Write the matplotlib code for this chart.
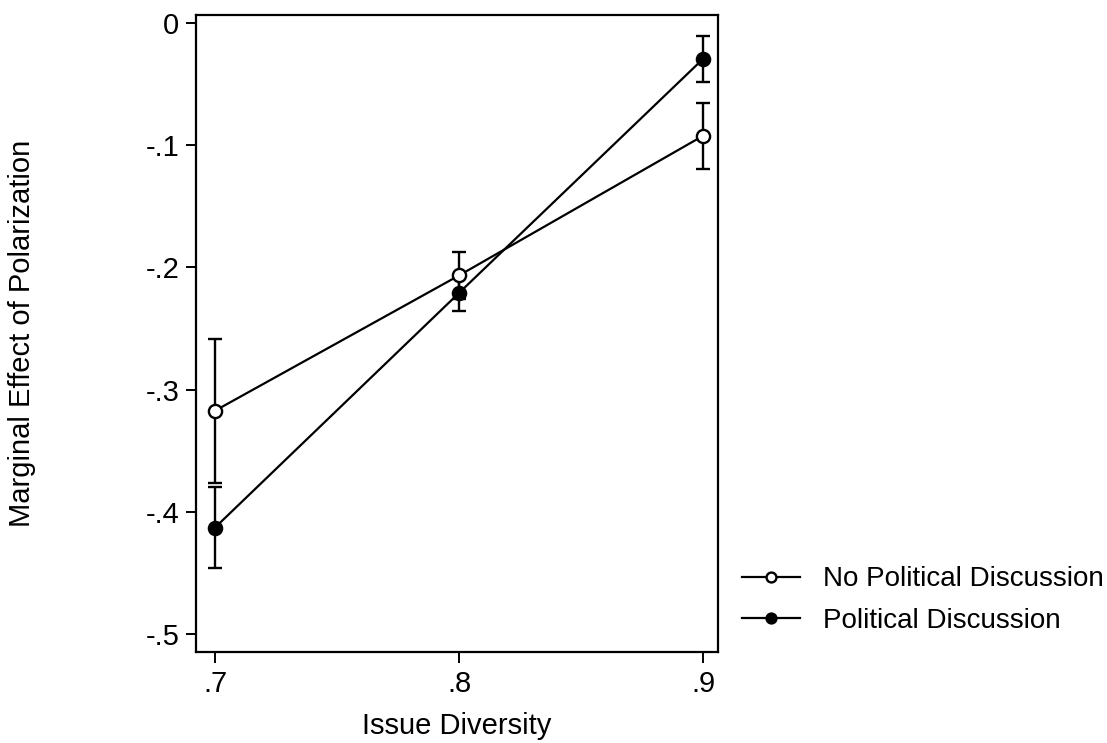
import matplotlib
matplotlib.use("Agg")
import matplotlib.pyplot as plt

plt.rcParams['font.family'] = ['Liberation Sans', 'DejaVu Sans']

x = [0.7, 0.8, 0.9]
xtick_labels = [".7", ".8", ".9"]
ytick_vals = [0, -0.1, -0.2, -0.3, -0.4, -0.5]
ytick_labels = ["0", "-.1", "-.2", "-.3", "-.4", "-.5"]

npd_est = [-0.3173, -0.2065, -0.0921]
npd_lo = [-0.3762, -0.2255, -0.1193]
npd_hi = [-0.2584, -0.1875, -0.0649]

pd_est = [-0.4130, -0.2208, -0.0291]
pd_lo = [-0.4465, -0.2356, -0.0478]
pd_hi = [-0.3795, -0.2060, -0.0104]

fig = plt.figure(figsize=(11.07, 7.43), dpi=100)
ax = fig.add_axes([0.1771, 0.1229, 0.4715, 0.8569])

def draw(est, lo, hi, face, label):
    yerr = [[e - l for e, l in zip(est, lo)], [h - e for e, h in zip(est, hi)]]
    ax.errorbar(x, est, yerr=yerr, fmt='none', ecolor='black', elinewidth=1.7,
                capsize=4.8, capthick=1.7, zorder=2)
    ax.plot(x, est, '-o', color='black', lw=1.6, markersize=9.5,
            markerfacecolor=face, markeredgecolor='black', markeredgewidth=1.7,
            label=label, zorder=3)

draw(npd_est, npd_lo, npd_hi, 'white', 'No Political Discussion')
draw(pd_est, pd_lo, pd_hi, 'black', 'Political Discussion')

ax.set_xlim(0.6922, 0.9061)
ax.set_ylim(-0.5147, 0.0068)
ax.set_xticks(x)
ax.set_xticklabels(xtick_labels)
ax.set_yticks(ytick_vals)
ax.set_yticklabels(ytick_labels)
ax.tick_params(axis='both', labelsize=21, width=1.4, color='black')
ax.tick_params(axis='x', pad=5, length=8)
ax.tick_params(axis='y', pad=5, length=7)
for s in ax.spines.values():
    s.set_linewidth(1.6)

ax.set_xlabel("Issue Diversity", fontsize=21, labelpad=10)
fig.text(22 / 1107, 1 - 333 / 743, "Marginal Effect of Polarization", rotation=90,
         fontsize=21, ha='center', va='center')

h, l = ax.get_legend_handles_labels()
leg = fig.legend(h, l, loc='center left', bbox_to_anchor=(742 / 1107, 1 - 600 / 743),
                 frameon=False, fontsize=20, handlelength=2.1, handletextpad=0.8,
                 borderpad=0, borderaxespad=0, labelspacing=0.55, markerscale=0.75)

fig.savefig("out.png", dpi=100)
